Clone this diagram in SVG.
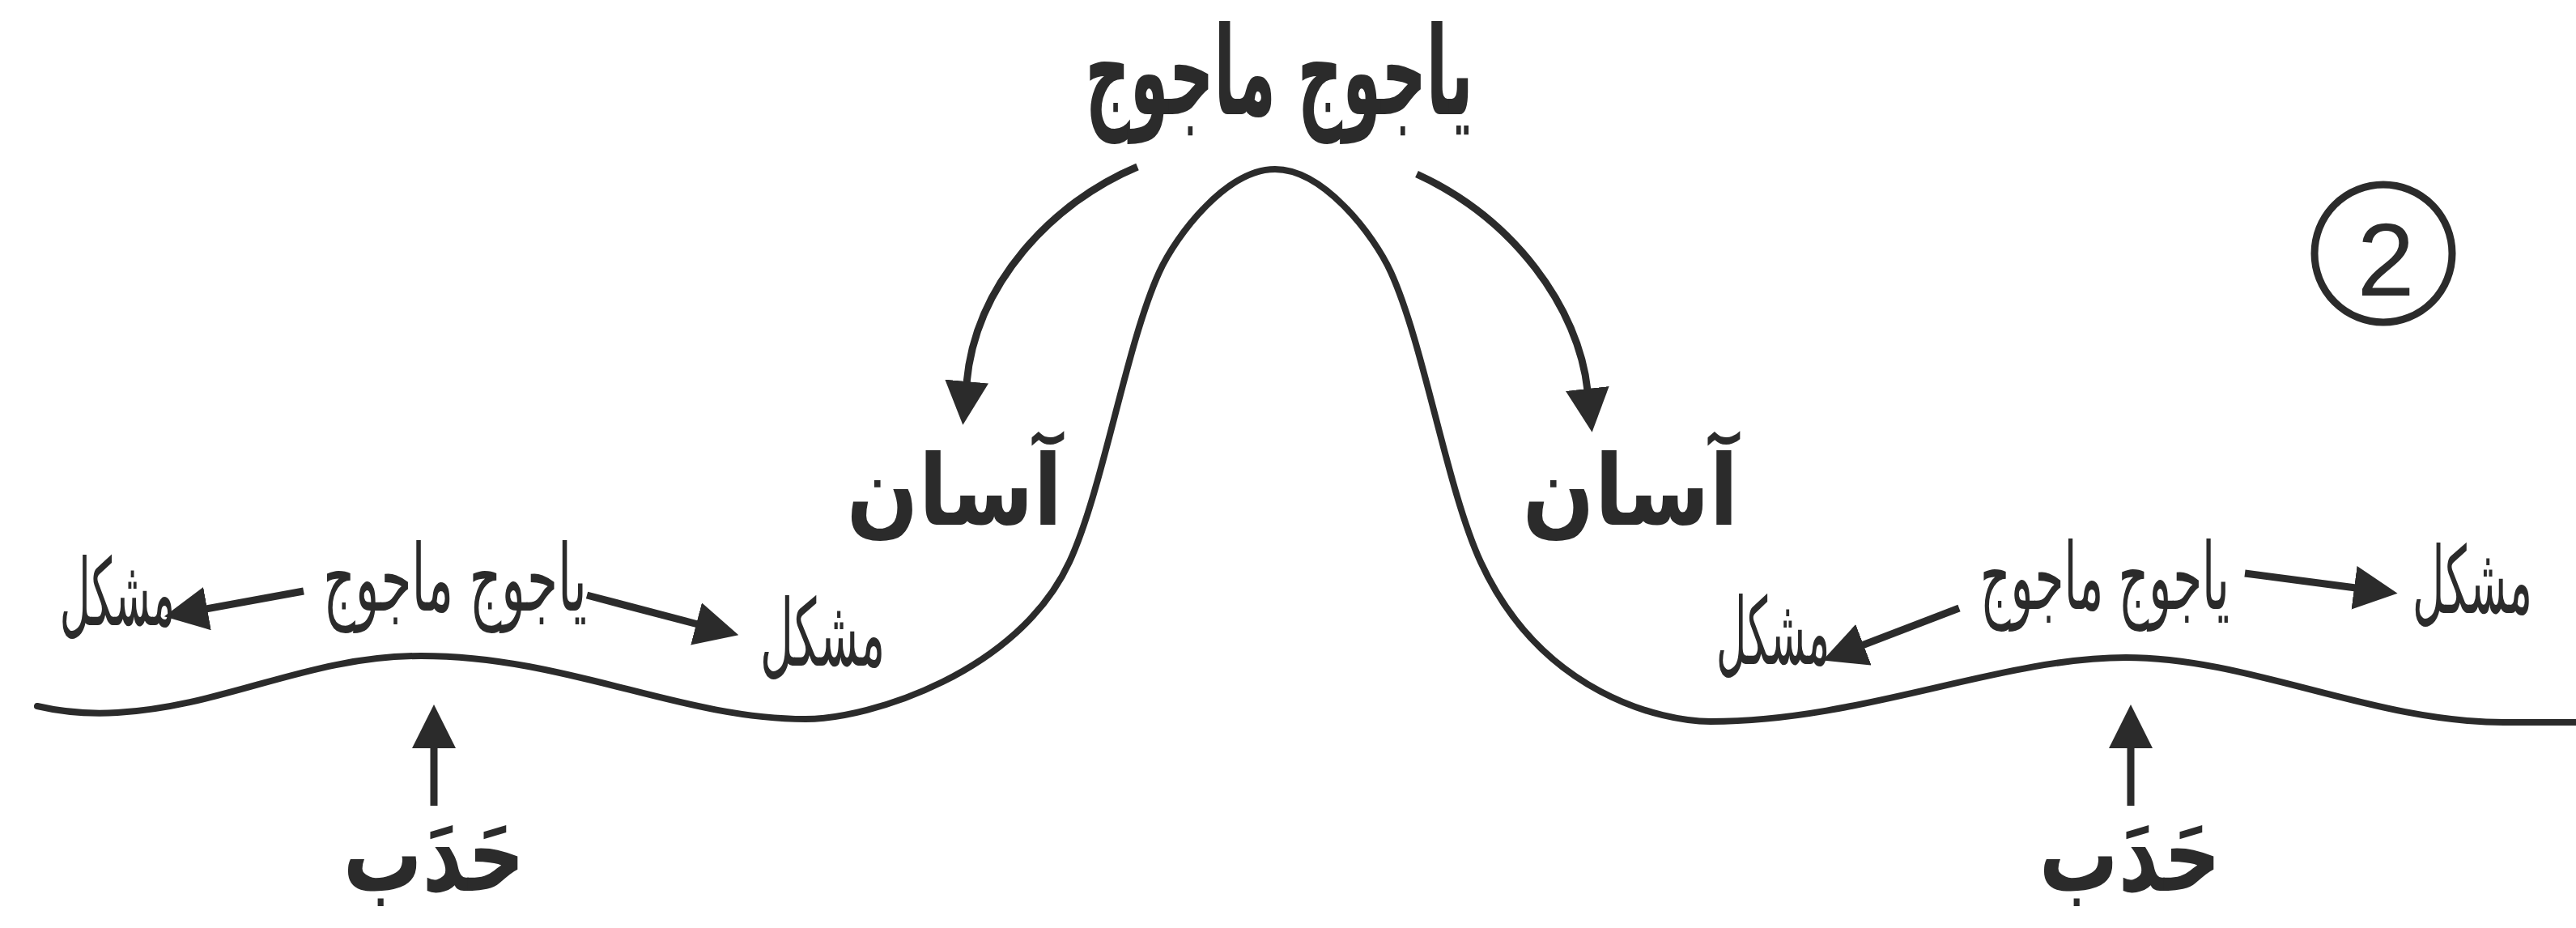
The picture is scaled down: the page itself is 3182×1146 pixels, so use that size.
<svg xmlns="http://www.w3.org/2000/svg" width="3182" height="1146" viewBox="0 0 3182 1146">
<style>
.ur{font-family:"DejaVu Sans","Noto Sans",sans-serif;fill:#2b2b2b;text-anchor:middle}
.b{font-weight:bold}
.ln{fill:none;stroke:#2b2b2b;stroke-width:8;stroke-linecap:round;stroke-linejoin:round}
.ar{fill:none;stroke:#2b2b2b;stroke-width:9;marker-end:url(#head)}
</style>
<defs>
<marker id="head" markerUnits="userSpaceOnUse" viewBox="0 0 54 54" refX="2" refY="27" markerWidth="54" markerHeight="54" orient="auto">
<path d="M0,0 L54,27 L0,54 z" fill="#2b2b2b"/>
</marker>
</defs>
<rect width="3182" height="1146" fill="#ffffff"/>
<g id="terrain">
<path class="ln" d="M46 872 C80 880 110 882 145 880 C280 872 380 810 520 810 C700 810 840 888 995 888 C1075 888 1258 830 1321 694 C1362.9 603.2 1390.6 427 1432 336 C1452.7 290.5 1515 209 1575 209 C1635 209 1697.3 290.5 1718 336 C1759.4 427 1787.1 603.2 1829 694 C1904.4 857.4 2053 891 2113 891 C2300 891 2470 812 2626 812 C2780 812 2930 892 3093 892 L3182 892"/>
</g>
<g id="connectors">
<path class="ar" d="M1405 206 C1300 250 1205 350 1194 473"/>
<path class="ar" d="M1750 215 C1870 270 1950 380 1961 482"/>
<path class="ar" d="M375 730 L254 752"/>
<path class="ar" d="M725 735 L862 771"/>
<path class="ar" d="M2420 751 L2300 797"/>
<path class="ar" d="M2773 708 L2910 726"/>
<path class="ar" d="M536 995 L536 922"/>
<path class="ar" d="M2632 995 L2632 922"/>
</g>
<g id="title"><text class="ur b" transform="translate(1580 141) scale(0.506 1)" font-size="152">یاجوج ماجوج</text></g>
<g id="easy-left"><text class="ur b" transform="translate(1179 648) scale(0.863 1)" font-size="121">آسان</text></g>
<g id="easy-right"><text class="ur b" transform="translate(2014 648) scale(0.863 1)" font-size="121">آسان</text></g>
<g id="left-hard-1"><text class="ur" transform="translate(145 772) scale(0.452 1)" font-size="115">مشکل</text></g>
<g id="left-yajuj"><text class="ur" transform="translate(562 754) scale(0.534 1)" font-size="115">یاجوج ماجوج</text></g>
<g id="left-hard-2"><text class="ur" transform="translate(1016 822) scale(0.49 1)" font-size="115">مشکل</text></g>
<g id="left-hadab"><text class="ur b" transform="translate(536 1100) scale(0.75 1)" font-size="130">حَدَب</text></g>
<g id="right-hard-1"><text class="ur" transform="translate(2190 820) scale(0.445 1)" font-size="115">مشکل</text></g>
<g id="right-yajuj"><text class="ur" transform="translate(2600 752) scale(0.505 1)" font-size="115">یاجوج ماجوج</text></g>
<g id="right-hard-2"><text class="ur" transform="translate(3054 757) scale(0.471 1)" font-size="115">مشکل</text></g>
<g id="right-hadab"><text class="ur b" transform="translate(2631 1100) scale(0.75 1)" font-size="130">حَدَب</text></g>
<g id="badge">
<circle cx="2944" cy="313" r="85" fill="none" stroke="#2b2b2b" stroke-width="9"/>
<text x="2947" y="365" font-family="Liberation Sans, Arial, sans-serif" font-size="128" fill="#2b2b2b" text-anchor="middle">2</text>
</g>
</svg>
